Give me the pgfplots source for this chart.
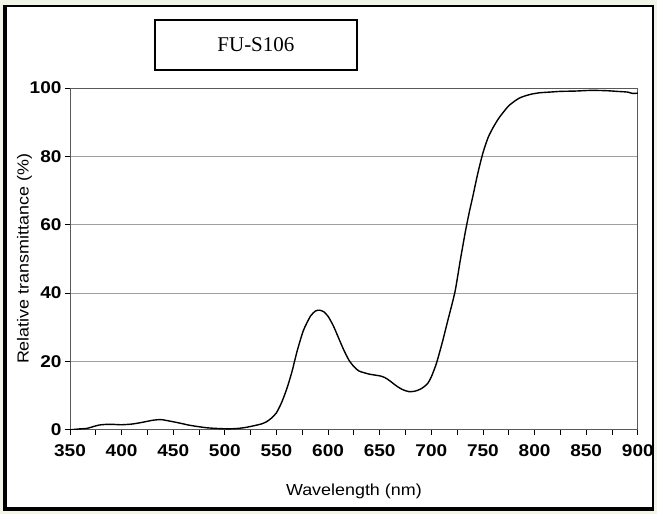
\documentclass[border=0pt]{standalone}
\usepackage{fontspec}
\setmainfont{Liberation Sans}[FakeStretch=1.12]
\newfontfamily\titlefont{Liberation Serif}
\usepackage{pgfplots}
\pgfplotsset{compat=1.18}
\definecolor{bgc}{RGB}{240,245,232}
\begin{document}
\begin{tikzpicture}[x=1pt,y=1pt]
\fill[bgc] (0,0) rectangle (657,514);
\fill[white] (5,5) rectangle (653,508);
\draw[black, line width=2pt] (5,5) rectangle (653,508);
\draw[black, line width=3.5pt] (5,3.5) -- (5,509);
\draw[black, line width=3.5pt] (3.5,5) -- (654,5);
\begin{axis}[
  at={(70pt,84pt)}, anchor=south west, scale only axis,
  width=568pt, height=342pt,
  xmin=350, xmax=900, ymin=0, ymax=100,
  xtick={350,400,...,900}, minor x tick num=1,
  ytick={0,20,...,100},
  ymajorgrids, major grid style={gray!75, line width=0.8pt},
  axis line style={gray!70!black, line width=0.8pt},
  tick align=outside, xtick pos=bottom, ytick pos=left,
  major tick length=5pt, minor tick length=5pt,
  tick style={black, line width=0.8pt},
  ticklabel style={font=\fontsize{17}{17}\selectfont\bfseries},
  xticklabel shift=6pt,
  /pgf/number format/assume math mode=true,
  /pgf/number format/1000 sep={},
  xlabel={Wavelength (nm)}, ylabel={Relative transmittance (\%)},
  label style={font=\fontsize{16}{16}\selectfont},
  xlabel style={yshift=-21pt},
  ylabel style={yshift=-9pt},
]
\addplot[black, line width=1.4pt, smooth, tension=0.4] coordinates {
(350,0) (360,0.3) (366,0.4) (372,0.9) (378,1.4) (385,1.6) (392,1.6) (400,1.5)
(410,1.7) (420,2.2) (430,2.8) (438,3.0) (446,2.6) (456,2.0) (465,1.4) (473,1.0)
(483,0.6) (493,0.4) (503,0.3) (512,0.4) (520,0.7) (528,1.2) (535,1.7) (540,2.3)
(545,3.4) (550,5.0) (555,8) (560,12) (565,17) (570,23) (576,29) (583,33.3)
(588,34.8) (592,35) (596,34.5) (600,33.2) (605,30.5) (610,27) (615,23.5)
(620,20.5) (625,18.5) (630,17.2) (640,16.3) (650,15.8) (655,15.3) (660,14.3)
(666,12.9) (672,11.8) (678,11.2) (684,11.3) (690,12.0) (696,13.4) (700,15.5)
(705,19.5) (711,26) (716,32) (723,40.5) (728,49.5) (733,58) (737,64) (740,68)
(745,75) (750,81) (755,85.5) (760,88.5) (765,91) (770,93) (775,94.8) (780,96)
(785,97) (790,97.6) (797,98.2) (805,98.6) (815,98.8) (825,99.0) (840,99.1)
(855,99.3) (870,99.2) (880,99.0) (890,98.8) (895,98.4) (900,98.5)
};
\end{axis}
\node[draw, line width=1.5pt, minimum width=202pt, minimum height=50pt, inner sep=0pt] at (256,469) {\titlefont\fontsize{21}{21}\selectfont FU-S106};
\end{tikzpicture}
\end{document}
